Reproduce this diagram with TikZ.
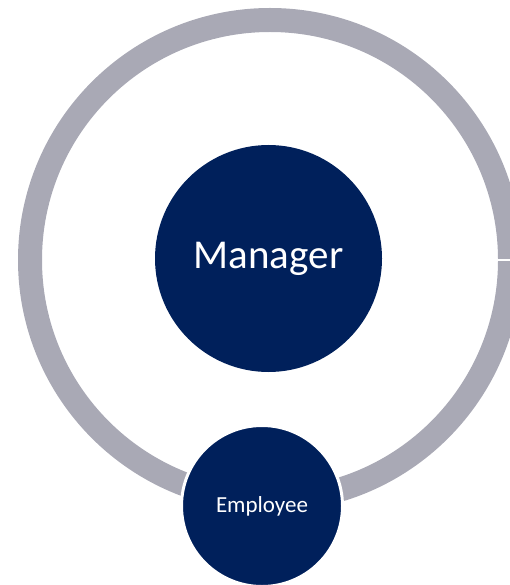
\documentclass[tikz,border=0pt]{standalone}
\usepackage{fontspec}
\setmainfont{Carlito}
\definecolor{navy}{HTML}{00205B}
\definecolor{ringgray}{HTML}{A9A9B5}
\begin{document}
\begin{tikzpicture}[x=1pt,y=-1pt,
  bubble/.style={circle, fill=navy, text=white, inner sep=0pt, align=center}]
\useasboundingbox (0,0) rectangle (510,585);
\clip (0,0) rectangle (510,585);
% outer ring
\draw[ringgray, line width=24pt] (270,260) circle[radius=240];
% thin white separator across the right of the ring
\coordinate (sepA) at (496,260);
\coordinate (sepB) at (515,260);
\draw[white, line width=1.6pt] (sepA) -- (sepB);
% central node
\node[bubble, minimum size=227pt, font=\fontsize{41}{48}\selectfont] (manager) at (268.5,258.5) {Manager};
% lower node sitting on the ring
\node[bubble, draw=white, line width=3pt, minimum size=161pt, font=\fontsize{23}{28}\selectfont] (employee) at (262,506) {Employee};
\end{tikzpicture}
\end{document}
